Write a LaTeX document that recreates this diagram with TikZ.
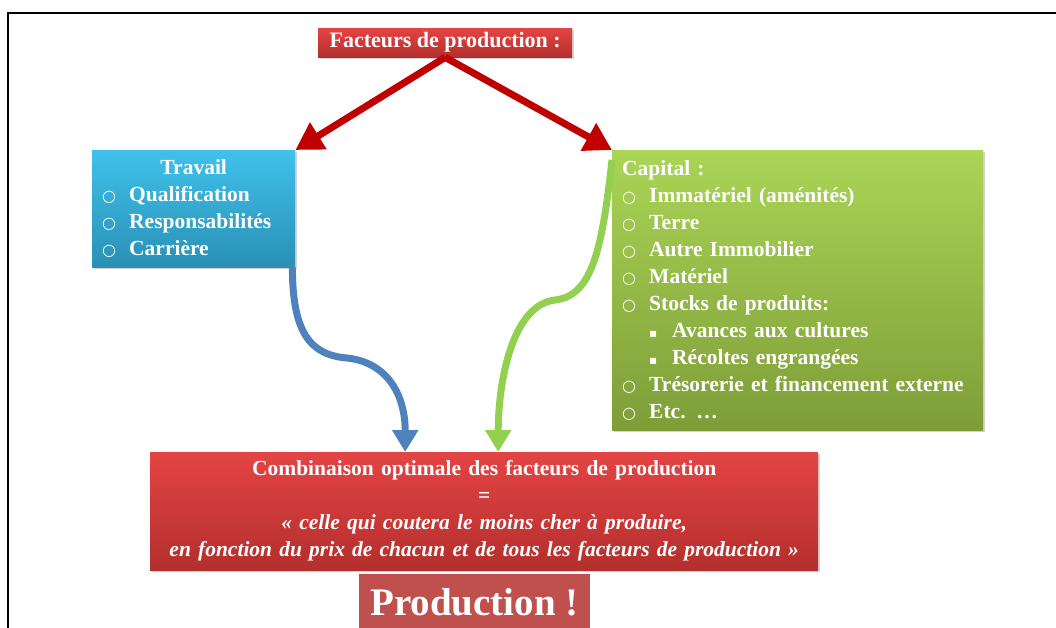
\documentclass[tikz,border=0pt]{standalone}
\usepackage{fontspec}
\setmainfont{Liberation Serif}
\newfontfamily\symfont{DejaVu Sans}
\usetikzlibrary{arrows.meta,shadows}

\definecolor{factred}{HTML}{C00000}
\definecolor{travtop}{HTML}{3FC1EC}
\definecolor{travbot}{HTML}{2A90B4}
\definecolor{captop}{HTML}{AAD556}
\definecolor{capbot}{HTML}{7E9D38}
\definecolor{combtop}{HTML}{E44444}
\definecolor{combbot}{HTML}{B32F2D}
\definecolor{prodred}{HTML}{C0504D}
\definecolor{travblue}{HTML}{4F81BD}
\definecolor{capgreen}{HTML}{92D050}

\newcommand{\obul}{\makebox[27pt][l]{\symfont\fontsize{16}{16}\selectfont ○}}
\newcommand{\sbul}{\hspace*{27pt}\makebox[23pt][l]{\symfont\fontsize{12}{12}\selectfont ▪}}

\tikzset{
  boxbase/.style={anchor=north west, inner xsep=10pt, inner ysep=0pt, text=white,
    font=\bfseries\fontsize{21.5}{27}\selectfont,
    drop shadow={shadow xshift=2pt, shadow yshift=-2pt, opacity=0.35}},
  factbox/.style={boxbase, top color=combtop, bottom color=combbot, align=center,
    minimum width=254pt, minimum height=29pt, font=\bfseries\fontsize{22}{24}\selectfont},
  travbox/.style={boxbase, top color=travtop, bottom color=travbot, align=left,
    text width=183pt, minimum height=117pt},
  capbox/.style={boxbase, top color=captop, bottom color=capbot, align=left,
    text width=351pt, minimum height=280pt},
  combbox/.style={boxbase, top color=combtop, bottom color=combbot, align=center,
    text width=648pt, minimum height=118pt},
  prodbox/.style={anchor=north west, fill=prodred, draw=white, line width=2pt, text=white,
    minimum width=233pt, minimum height=58pt, font=\bfseries\fontsize{39}{42}\selectfont},
  redarrow/.style={draw=factred, line width=7pt, -{Triangle[length=27pt,width=30pt]}},
  curvearrow/.style={line width=7pt, -{Triangle[length=22pt,width=25pt]}}
}

\begin{document}
\begin{tikzpicture}[x=1pt,y=-1pt]
  \useasboundingbox (0,0) rectangle (1056,628);
  \draw[line width=2pt] (1056,13) -- (8,13) -- (8,628);

  \node[factbox] (fact) at (318,28) {Facteurs de production :};
  \node[travbox] (trav) at (92,150) {\makebox[183pt][c]{Travail}\\
    \obul Qualification\\
    \obul Responsabilités\\
    \obul Carrière};
  \node[capbox] (cap) at (612,150) {Capital :\\
    \obul Immatériel (aménités)\\
    \obul Terre\\
    \obul Autre Immobilier\\
    \obul Matériel\\
    \obul Stocks de produits:\\
    \sbul Avances aux cultures\\
    \sbul Récoltes engrangées\\
    \obul Trésorerie et financement externe\\
    \obul Etc. …};
  \node[combbox] (comb) at (150,452) {Combinaison optimale des facteurs de production\\
    =\\
    \itshape « celle qui coutera le moins cher à produire,\\
    \itshape en fonction du prix de chacun et de tous les facteurs de production »};
  \node[prodbox] (prod) at (357,572) {Production !};

  \draw[redarrow] (fact.south) -- (trav.north east);
  \draw[redarrow] (fact.south) -- (cap.north west);
  \draw[curvearrow, travblue] ([xshift=-3pt]trav.south east)
    .. controls +(0,65) and (310,355) .. (347,358)
    .. controls (385,362) and ([xshift=-79pt,yshift=60pt]comb.north) .. ([xshift=-79pt]comb.north);
  \draw[curvearrow, capgreen] ([yshift=-10pt]cap.north west)
    .. controls (602,250) and (592,296) .. (555,300)
    .. controls (512,305) and ([xshift=14pt,yshift=70pt]comb.north) .. ([xshift=14pt]comb.north);
\end{tikzpicture}
\end{document}
